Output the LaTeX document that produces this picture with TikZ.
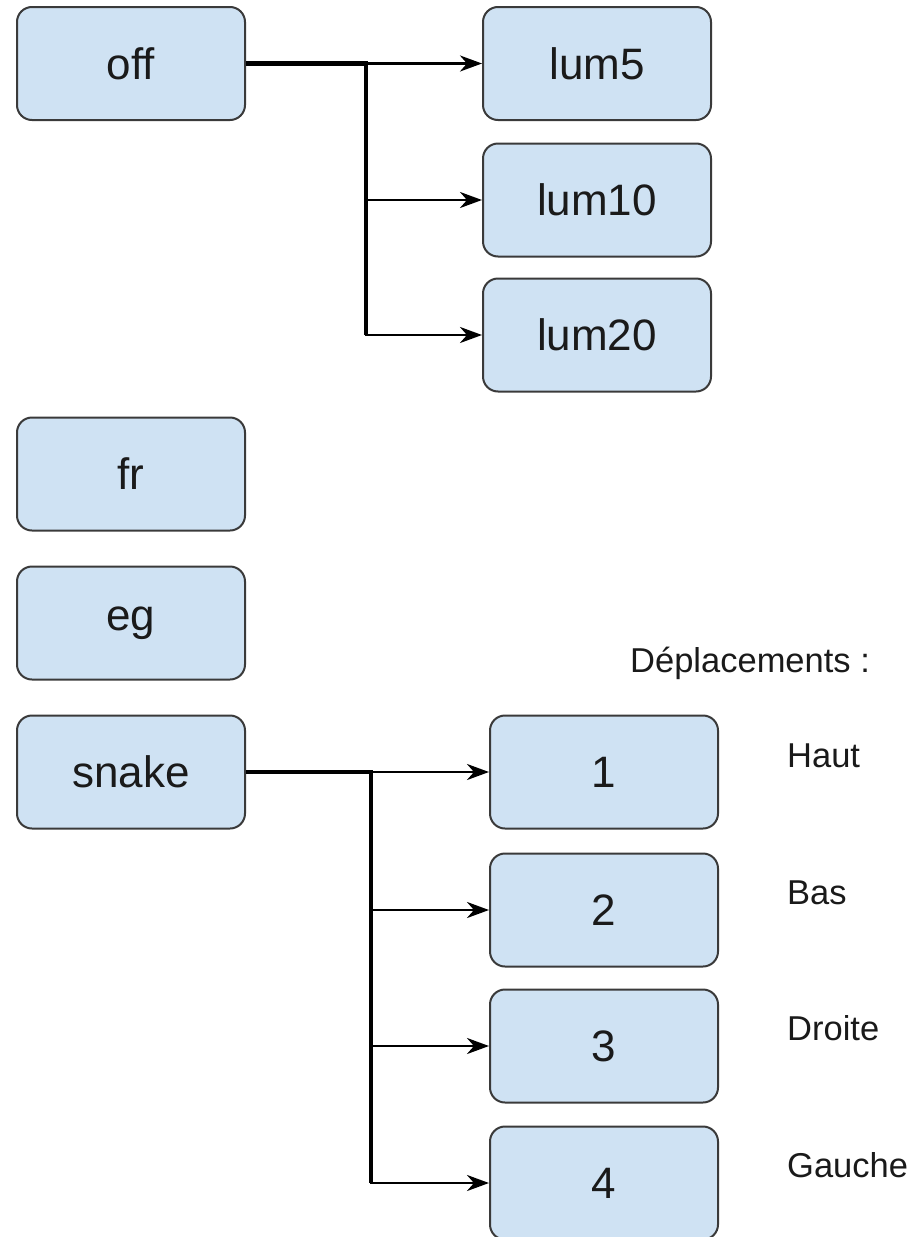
\documentclass[tikz,border=0pt]{standalone}
\usepackage{fontspec}
\setmainfont[Ligatures=NoCommon]{Liberation Sans}
\usetikzlibrary{arrows.meta}
\definecolor{boxfill}{HTML}{CFE2F3}
\definecolor{boxdraw}{HTML}{3A3A3A}
\definecolor{txt}{HTML}{1A1A1A}
\tikzset{
  box/.style={draw=boxdraw, fill=boxfill, line width=2pt, rounded corners=15pt,
    minimum width=228pt, minimum height=113pt, inner sep=0pt, text=txt,
    font=\fontsize{44}{50}\selectfont},
  lbl/.style={anchor=base west, inner sep=0pt, text=txt, font=\fontsize{34.5}{40}\selectfont},
  stem/.style={line width=4.5pt, draw=black},
  arr/.style={line width=2.8pt, draw=black, -{Stealth[length=22pt,width=16pt,inset=7pt]}}
}
\begin{document}
\begin{tikzpicture}[x=1pt,y=-1pt]
\useasboundingbox (0,0) rectangle (914,1237);
% left column
\node[box] (off) at (131,63.5) {off};
\node[box] (fr) at (131,474) {fr};
\node[box] (eg) at (131,623) {eg};
\node[box] (snake) at (131,772) {snake};
% lum column
\node[box] (lum5) at (597,63.5) {lum5};
\node[box] (lum10) at (597,200) {lum10};
\node[box] (lum20) at (597,335) {lum20};
% number column
\node[box] (n1) at (604,772) {1};
\node[box] (n2) at (604,910) {2};
\node[box] (n3) at (604,1046) {3};
\node[box] (n4) at (604,1183) {4};
% junctions
\coordinate (j1) at (366,63.5);
\coordinate (j2) at (371,772);
\draw[stem] (off.east) -- ([xshift=1.7pt]j1);
\draw[line width=3.4pt] ([yshift=-2pt]j1) -- (j1 |- lum20.west);
\draw[arr] (j1) -- (lum5.west);
\draw[arr] (j1) |- (lum10.west);
\draw[arr] (j1) |- (lum20.west);
\draw[stem] (snake.east) -- ([xshift=1.7pt]j2);
\draw[line width=3.4pt] ([yshift=-2pt]j2) -- (j2 |- n4.west);
\draw[arr] (j2) -- (n1.west);
\draw[arr] (j2) |- (n2.west);
\draw[arr] (j2) |- (n3.west);
\draw[arr] (j2) |- (n4.west);
% labels
\node[lbl] (dep) at (630,672) {Déplacements :};
\node[lbl] (haut) at (787,767) {Haut};
\node[lbl] (bas) at (787,904) {Bas};
\node[lbl] (droite) at (787,1040) {Droite};
\node[lbl] (gauche) at (787,1177) {Gauche};
\end{tikzpicture}
\end{document}
